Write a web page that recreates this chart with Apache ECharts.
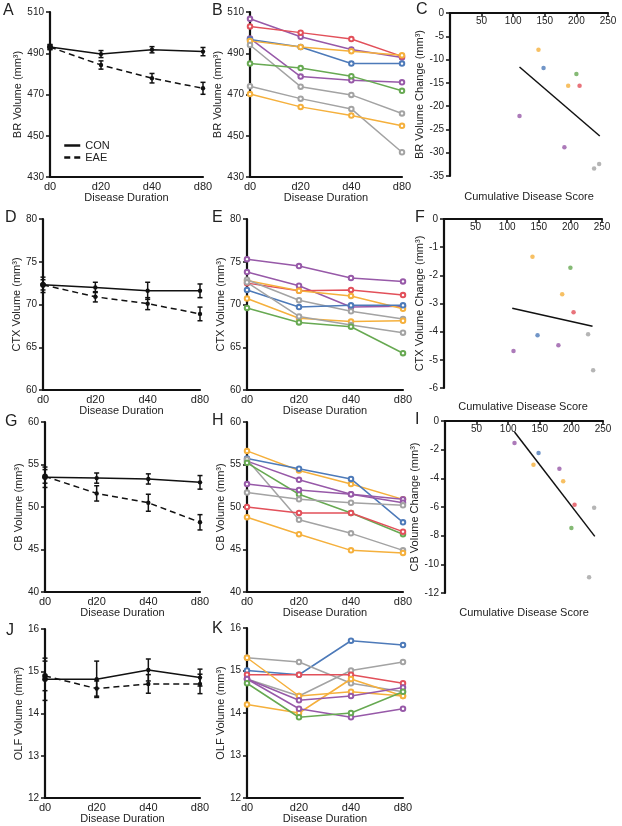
<!DOCTYPE html>
<html><head><meta charset="utf-8">
<script src="https://cdn.jsdelivr.net/npm/echarts@6/dist/echarts.min.js"></script>
<style>html,body{margin:0;padding:0;background:#fff}#c{width:622px;height:826px}</style>
</head><body><div id="c"></div><script>
// ---------- DATA ----------
const days = ['d0', 'd20', 'd40', 'd80'];

// group means (CON vs EAE) and SEM
const brCon = [493.0, 489.6, 491.7, 490.8];
const brConErr = [1.2, 1.7, 1.5, 2.0];
const brEae = [493.0, 484.3, 477.9, 473.0];
const brEaeErr = [1.2, 2.0, 2.3, 2.9];

const ctxCon = [72.3, 72.0, 71.6, 71.6];
const ctxConErr = [0.9, 0.6, 1.0, 0.8];
const ctxEae = [72.3, 70.9, 70.1, 68.9];
const ctxEaeErr = [0.6, 0.6, 0.7, 0.8];

const cbCon = [53.5, 53.4, 53.3, 52.9];
const cbConErr = [1.2, 0.6, 0.6, 0.8];
const cbEae = [53.6, 51.6, 50.5, 48.2];
const cbEaeErr = [0.8, 0.9, 1.0, 0.9];

const olfCon = [14.81, 14.81, 15.03, 14.85];
const olfConErr = [0.5, 0.43, 0.26, 0.2];
const olfEae = [14.89, 14.59, 14.70, 14.70];
const olfEaeErr = [0.35, 0.18, 0.22, 0.23];

// individual EAE animals
const brColors = ['purple', 'red', 'purple', 'blue', 'orange', 'gray', 'green', 'gray', 'orange'];
const brLines = [
  [506.7, 498.0, 491.8, 487.9],
  [503.0, 500.0, 496.9, 488.5],
  [497.2, 478.7, 476.9, 475.9],
  [496.7, 493.0, 485.0, 485.0],
  [496.0, 493.0, 491.0, 489.0],
  [494.0, 473.8, 469.8, 460.8],
  [485.0, 482.8, 478.9, 471.8],
  [474.0, 468.0, 463.0, 442.0],
  [470.2, 464.0, 459.8, 454.8]
];
const ctxColors = ['purple', 'purple', 'red', 'orange', 'gray', 'blue', 'orange', 'gray', 'green'];
const ctxLines = [
  [75.3, 74.5, 73.1, 72.7],
  [73.8, 72.2, 69.7, 69.8],
  [72.5, 71.6, 71.7, 71.1],
  [72.8, 71.6, 71.0, 69.5],
  [72.9, 70.5, 69.2, 68.3],
  [71.7, 69.7, 69.9, 69.9],
  [70.7, 68.4, 68.0, 68.1],
  [72.6, 68.6, 67.6, 66.7],
  [69.6, 67.9, 67.4, 64.3]
];
const cbColors = ['orange', 'blue', 'purple', 'gray', 'green', 'purple', 'gray', 'red', 'orange'];
const cbLines = [
  [56.6, 54.3, 52.7, 50.9],
  [55.7, 54.5, 53.3, 48.2],
  [55.4, 53.2, 51.5, 50.9],
  [55.6, 48.5, 46.9, 44.9],
  [55.2, 51.5, 49.3, 46.8],
  [52.7, 52.0, 51.5, 50.5],
  [51.7, 50.9, 50.5, 50.2],
  [50.0, 49.3, 49.3, 47.1],
  [48.8, 46.8, 44.9, 44.6]
];
const olfColors = ['blue', 'gray', 'gray', 'red', 'orange', 'orange', 'purple', 'purple', 'green'];
const olfLines = [
  [15.0, 14.9, 15.7, 15.6],
  [15.3, 15.2, 14.7, 14.5],
  [14.8, 14.4, 15.0, 15.2],
  [14.9, 14.9, 14.9, 14.7],
  [15.3, 14.4, 14.5, 14.4],
  [14.2, 14.0, 14.8, 14.4],
  [14.8, 14.3, 14.4, 14.6],
  [14.8, 14.1, 13.9, 14.1],
  [14.7, 13.9, 14.0, 14.5]
];

// cumulative disease score vs volume change
const scoreX = [110, 140, 148, 181, 187, 200, 205, 228, 236];
const scoreColors = ['purple', 'orange', 'blue', 'purple', 'orange', 'green', 'red', 'gray', 'gray'];
const brChange = [-22.1, -7.9, -11.8, -28.8, -15.6, -13.1, -15.6, -33.4, -32.4];
const ctxChange = [-4.69, -1.34, -4.13, -4.48, -2.67, -1.73, -3.31, -4.09, -5.37];
const cbChange = [-1.53, -3.05, -2.23, -3.33, -4.2, -7.47, -5.84, -10.9, -6.05];
const brFit = [[110, -11.6], [237, -26.4]];
const ctxFit = [[108, -3.17], [235, -3.81]];
const cbFit = [[110, -0.77], [237, -8.05]];

// ---------- STYLE ----------
const FONT = '"Liberation Sans", Arial, Helvetica, sans-serif';
const TXT = '#222';
const AX = '#111';
const palette = {purple: '#9759a8', red: '#e2505a', blue: '#4d7ab9', orange: '#f5b03c', green: '#67a952', gray: '#a3a3a3'};

const grids = [], xAxes = [], yAxes = [], series = [], graphics = [];

function addGrid(g) {
  grids.push({left: g[0], top: g[1], width: g[2], height: g[3]});
  return grids.length - 1;
}
function yAxisCfg(gi, min, max, interval, name, gap) {
  yAxes.push({
    gridIndex: gi, type: 'value', min, max, interval, name,
    nameLocation: 'middle', nameGap: gap,
    nameTextStyle: {color: TXT, fontSize: 11, fontFamily: FONT},
    axisLine: {show: true, onZero: false, lineStyle: {color: AX, width: 2.2}},
    axisTick: {show: true, length: 4, lineStyle: {color: AX, width: 1.5}},
    axisLabel: {color: TXT, fontSize: 10, fontFamily: FONT, margin: 6},
    splitLine: {show: false}
  });
  return yAxes.length - 1;
}
function catXAxis(gi) {
  xAxes.push({
    gridIndex: gi, type: 'category', data: days, boundaryGap: false,
    name: 'Disease Duration', nameLocation: 'middle', nameGap: 14,
    nameTextStyle: {color: TXT, fontSize: 11, fontFamily: FONT},
    axisLine: {onZero: false, lineStyle: {color: AX, width: 2.2}},
    axisTick: {show: false},
    axisLabel: {color: TXT, fontSize: 11, fontFamily: FONT, margin: 4},
    splitLine: {show: false}
  });
  return xAxes.length - 1;
}
function errSeries(xi, yi, vals, errs) {
  return {
    type: 'custom', xAxisIndex: xi, yAxisIndex: yi, z: 5, silent: true,
    data: vals.map((v, i) => [i, v, errs[i]]),
    encode: {x: 0, y: 1},
    renderItem: (p, api) => {
      const i = api.value(0), v = api.value(1), e = api.value(2);
      const c = api.coord([i, v]), t = api.coord([i, v + e]), b = api.coord([i, v - e]);
      const st = {stroke: AX, lineWidth: 1.5};
      return {type: 'group', children: [
        {type: 'line', shape: {x1: t[0], y1: t[1], x2: b[0], y2: b[1]}, style: st},
        {type: 'line', shape: {x1: t[0] - 2.5, y1: t[1], x2: t[0] + 2.5, y2: t[1]}, style: st},
        {type: 'line', shape: {x1: b[0] - 2.5, y1: b[1], x2: b[0] + 2.5, y2: b[1]}, style: st},
        {type: 'circle', shape: {cx: c[0], cy: c[1], r: i === 0 ? 2.8 : 2.2}, style: {fill: AX}}
      ]};
    }
  };
}
function groupPanel(g, yr, yName, gap, con, conErr, eae, eaeErr) {
  const gi = addGrid(g);
  const xi = catXAxis(gi);
  const yi = yAxisCfg(gi, yr[0], yr[1], yr[2], yName, gap);
  series.push({type: 'line', name: 'CON', xAxisIndex: xi, yAxisIndex: yi, data: con, symbol: 'none',
    lineStyle: {color: AX, width: 1.5}, itemStyle: {color: AX}});
  series.push({type: 'line', name: 'EAE', xAxisIndex: xi, yAxisIndex: yi, data: eae, symbol: 'none',
    lineStyle: {color: AX, width: 1.5, type: [6, 4]}, itemStyle: {color: AX}});
  series.push(errSeries(xi, yi, con, conErr));
  series.push(errSeries(xi, yi, eae, eaeErr));
}
function indivPanel(g, yr, yName, gap, lines, colors) {
  const gi = addGrid(g);
  const xi = catXAxis(gi);
  const yi = yAxisCfg(gi, yr[0], yr[1], yr[2], yName, gap);
  lines.forEach((d, k) => {
    const col = palette[colors[k]];
    series.push({type: 'line', xAxisIndex: xi, yAxisIndex: yi, data: d,
      symbol: 'emptyCircle', symbolSize: 4.5,
      lineStyle: {color: col, width: 1.5}, itemStyle: {color: col, borderWidth: 1.2}});
  });
}
function scatterPanel(g, yr, yName, gap, vals, fit, labelY) {
  const gi = addGrid(g);
  xAxes.push({
    gridIndex: gi, type: 'value', min: 0, max: 250, interval: 50, position: 'top',
    axisLine: {onZero: false, lineStyle: {color: AX, width: 2.2}},
    axisTick: {show: true, inside: true, length: 4, lineStyle: {color: AX, width: 1.5}},
    axisLabel: {inside: true, showMinLabel: false, margin: 3, color: TXT, fontSize: 10, fontFamily: FONT},
    splitLine: {show: false}
  });
  const xi = xAxes.length - 1;
  const yi = yAxisCfg(gi, yr[0], yr[1], yr[2], yName, gap);
  series.push({type: 'scatter', xAxisIndex: xi, yAxisIndex: yi, symbolSize: 4.5,
    data: scoreX.map((x, i) => ({value: [x, vals[i]], itemStyle: {color: palette[scoreColors[i]]}}))});
  series.push({type: 'line', xAxisIndex: xi, yAxisIndex: yi, data: fit, symbol: 'none',
    lineStyle: {color: AX, width: 1.5}});
  graphics.push({type: 'text', x: g[0] + 79, y: labelY,
    style: {text: 'Cumulative Disease Score', fontSize: 11, fontFamily: FONT, fill: TXT, align: 'center', verticalAlign: 'middle'}});
}

// ---------- PANELS ----------
groupPanel([50, 12, 153, 165], [430, 510, 20], 'BR Volume (mm³)', 25, brCon, brConErr, brEae, brEaeErr);
indivPanel([250, 12, 152, 165], [430, 510, 20], 'BR Volume (mm³)', 22, brLines, brColors);
scatterPanel([450, 13, 158, 163], [-35, 0, 5], 'BR Volume Change (mm³)', 21, brChange, brFit, 197);

groupPanel([43, 219, 157, 171], [60, 80, 5], 'CTX Volume (mm³)', 20, ctxCon, ctxConErr, ctxEae, ctxEaeErr);
indivPanel([247, 219, 156, 171], [60, 80, 5], 'CTX Volume (mm³)', 20, ctxLines, ctxColors);
scatterPanel([444, 219, 158, 169], [-6, 0, 1], 'CTX Volume Change (mm³)', 17, ctxChange, ctxFit, 407);

groupPanel([45, 422, 155, 170], [40, 60, 5], 'CB Volume (mm³)', 20, cbCon, cbConErr, cbEae, cbEaeErr);
indivPanel([247, 422, 156, 170], [40, 60, 5], 'CB Volume (mm³)', 19, cbLines, cbColors);
scatterPanel([445, 421, 158, 172], [-12, 0, 2], 'CB Volume Change (mm³)', 17, cbChange, cbFit, 613);

groupPanel([45, 629, 155, 169], [12, 16, 1], 'OLF Volume (mm³)', 18, olfCon, olfConErr, olfEae, olfEaeErr);
indivPanel([247, 628, 156, 170], [12, 16, 1], 'OLF Volume (mm³)', 18, olfLines, olfColors);

// panel letters
const letters = [['A', 3, 11], ['B', 212, 11], ['C', 416, 10], ['D', 5, 218], ['E', 212, 218], ['F', 415, 218],
  ['G', 5, 422], ['H', 212, 421], ['I', 415, 420], ['J', 6, 631], ['K', 212, 629]];
letters.forEach(l => graphics.push({type: 'text', x: l[1], y: l[2],
  style: {text: l[0], fontSize: 16, fontFamily: FONT, fill: TXT, align: 'left', verticalAlign: 'middle'}}));

const chart = echarts.init(document.getElementById('c'), null, {renderer: 'canvas'});
chart.setOption({
  animation: false,
  backgroundColor: '#fff',
  grid: grids, xAxis: xAxes, yAxis: yAxes, series: series,
  legend: {data: ['CON', 'EAE'], orient: 'vertical', left: 63, top: 140, padding: 0,
    itemWidth: 16, itemHeight: 10, itemGap: 1,
    textStyle: {fontSize: 11, color: TXT, fontFamily: FONT},
    itemStyle: {opacity: 0}, lineStyle: {width: 2.5, color: AX}},
  graphic: graphics
});
</script></body></html>
